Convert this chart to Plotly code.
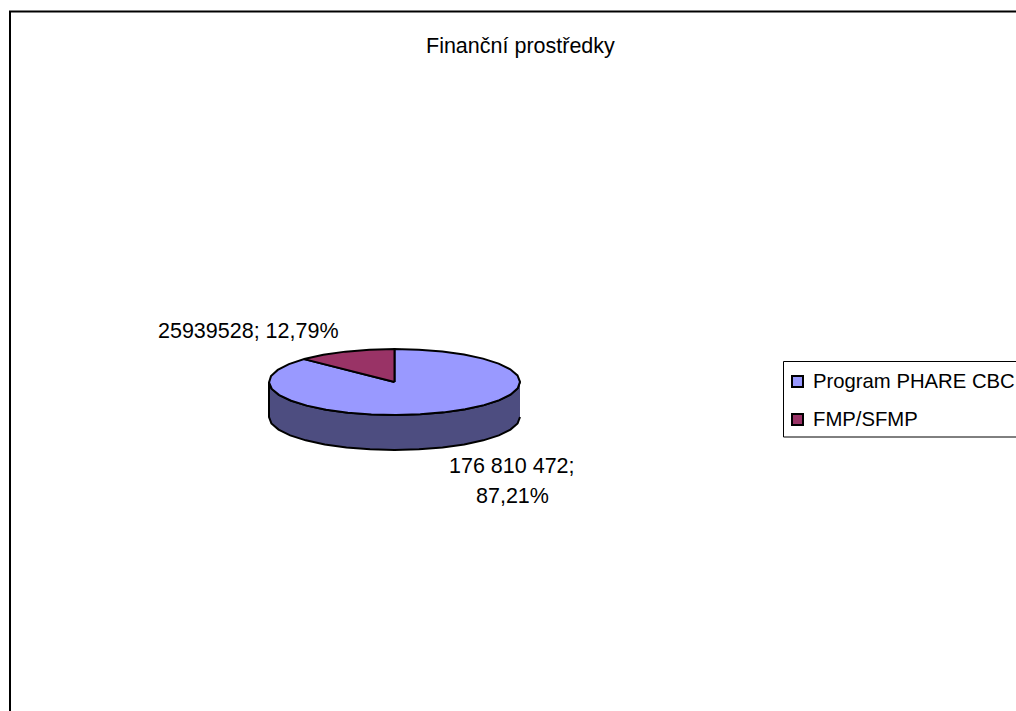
import numpy as np
import plotly.graph_objects as go

# Chart content
TITLE = "Finanční prostředky"
categories = ["Program PHARE CBC", "FMP/SFMP"]
values = [176810472, 25939528]
value_labels = [["176 810 472;", "87,21%"], ["25939528; 12,79%"]]
top_colors = ["#9999FF", "#993366"]
side_colors = ["#4D4D80", "#4D1A33"]

# Pixel-sized plotting space and the pie's projected geometry
WIDTH, HEIGHT = 1016, 711
CX, CY, RX, RY, DEPTH = 394.5, 382.0, 125.5, 33.0, 35.0
STEP = 11.25
FONT = "Liberation Sans"
TEXT_SIZE = 21.5
LEGEND_SIZE = 20.3

# Key placement: swatch column, text column, one row centre per category
KEY_SWATCH_X, KEY_TEXT_X = 797.5, 811
KEY_ROWS_Y = [381.5, 419.5]


def rim(a0, a1):
    """Points on the tilted pie rim, clockwise from 12 o'clock, in degrees."""
    n = max(2, int(round(abs(a1 - a0) / STEP)) + 1)
    t = np.radians(np.linspace(a0, a1, n))
    return CX + RX * np.sin(t), CY - RY * np.cos(t)


fig = go.Figure()

# Visible wall of the cylinder: the front half of the rim, pushed down
fx, fy = rim(90, 270)
fig.add_trace(go.Scatter(
    x=np.concatenate([fx, fx[::-1]]),
    y=np.concatenate([fy, fy[::-1] + DEPTH]),
    mode="lines", fill="toself", fillcolor=side_colors[0],
    line=dict(color="black", width=2), showlegend=False, hoverinfo="skip",
))

# Top face wedges, sized by each value's share of the total
shares = np.array(values, dtype=float) / sum(values)
edges = np.concatenate([[0.0], np.cumsum(shares) * 360.0])
for i, name in enumerate(categories):
    rx_, ry_ = rim(edges[i], edges[i + 1])
    fig.add_trace(go.Scatter(
        x=np.concatenate([[CX], rx_, [CX]]),
        y=np.concatenate([[CY], ry_, [CY]]),
        mode="lines", fill="toself", fillcolor=top_colors[i], name=name,
        line=dict(color="black", width=2), showlegend=False, hoverinfo="skip",
    ))

# Key swatches, placed inside a box that the right edge cuts off
for i, name in enumerate(categories):
    fig.add_trace(go.Scatter(
        x=[KEY_SWATCH_X], y=[KEY_ROWS_Y[i]], mode="markers", name=name,
        marker=dict(symbol="square", size=11, color=top_colors[i],
                    line=dict(color="black", width=2)),
        showlegend=False, hoverinfo="skip",
    ))

annotations = [
    dict(x=520.5, y=46, text=TITLE),
    dict(x=512, y=466, text=value_labels[0][0]),
    dict(x=512, y=495.5, text=value_labels[0][1]),
    dict(x=248, y=330.5, text=value_labels[1][0]),
]
for a in annotations:
    a.update(xanchor="center", font=dict(family=FONT, size=TEXT_SIZE, color="black"))
for i, name in enumerate(categories):
    annotations.append(dict(x=KEY_TEXT_X, y=KEY_ROWS_Y[i] - 1, text=name, xanchor="left",
                            font=dict(family=FONT, size=LEGEND_SIZE, color="black")))
for a in annotations:
    a.update(xref="x", yref="y", showarrow=False, yanchor="middle")

fig.update_layout(
    width=WIDTH, height=HEIGHT, autosize=False,
    margin=dict(l=0, r=0, t=0, b=0),
    paper_bgcolor="white", plot_bgcolor="white",
    font=dict(family=FONT, size=TEXT_SIZE, color="black"),
    showlegend=False,
    xaxis=dict(range=[0, WIDTH], visible=False, fixedrange=True),
    yaxis=dict(range=[HEIGHT, 0], visible=False, fixedrange=True),
    annotations=annotations,
    shapes=[
        # Outer chart frame, running off the right and bottom edges
        dict(type="rect", xref="x", yref="y", x0=10, y0=11.5, x1=WIDTH + 30, y1=HEIGHT + 30,
             line=dict(color="black", width=2), layer="below"),
        # Key box, also cut by the right edge
        dict(type="rect", xref="x", yref="y", x0=783.5, y0=361.5, x1=WIDTH + 30, y1=437,
             line=dict(color="black", width=1), layer="below"),
    ],
)

fig.write_html("out.html", config=dict(displayModeBar=False))
